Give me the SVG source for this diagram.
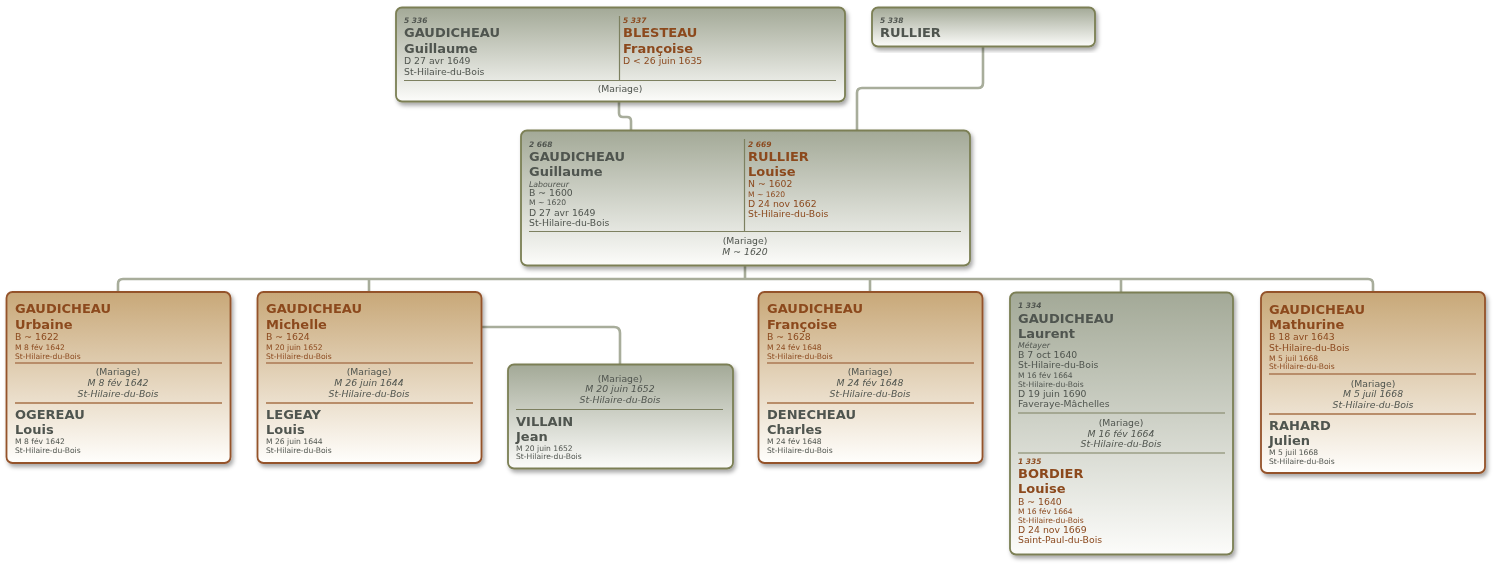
<svg xmlns="http://www.w3.org/2000/svg" width="1496" height="588" viewBox="0 0 1496 588">
<style>
text{font-family:"DejaVu Sans",Verdana,sans-serif;fill:#50554f}
.b{font-weight:bold;font-size:13px}
.n{font-size:9.3px}
.s{font-size:7.6px}
.i{font-style:italic;font-size:9.3px}
.id{font-style:italic;font-weight:bold;font-size:7.5px}
.lab{font-style:italic;font-size:7.8px}
.br{fill:#8c4a1f}
.c{text-anchor:middle}
.gbox{fill:url(#gg);stroke:#7b7f54;stroke-width:1.8}
.bbox{fill:url(#bg);stroke:#94522a;stroke-width:1.8}
.gl{stroke:#7d8060;stroke-width:1.2}
.bl{stroke:#b88d6a;stroke-width:2}
.con{fill:none;stroke:#a8ad9b;stroke-width:2.6}
</style>
<defs>
<linearGradient id="gg" x1="0" y1="0" x2="0" y2="1">
<stop offset="0" stop-color="#a3a997"/>
<stop offset="1" stop-color="#fcfcfa"/>
</linearGradient>
<linearGradient id="bg" x1="0" y1="0" x2="0" y2="1">
<stop offset="0" stop-color="#c8a878"/>
<stop offset="1" stop-color="#fffefc"/>
</linearGradient>
<filter id="sh" x="-5%" y="-5%" width="115%" height="120%">
<feDropShadow dx="2" dy="3" stdDeviation="2" flood-color="#000" flood-opacity="0.35"/>
</filter>
</defs>

<g id="connectors">
<path class="con" d="M619,102 V113 Q619,117 623,117 H627 Q631,117 631,121 V130"/>
<path class="con" d="M983,47 V83 Q983,88 978,88 H862 Q857,88 857,93 V130"/>
<path class="con" d="M745,265 V279"/>
<path class="con" d="M118,292 V284 Q118,279 123,279 H1368 Q1373,279 1373,284 V292"/>
<path class="con" d="M369,279 V292"/>
<path class="con" d="M870,279 V292"/>
<path class="con" d="M1121,279 V292"/>
<path class="con" d="M482,327 H614 Q620,327 620,333 V364"/>
</g>

<g id="couple-5336-5337" filter="url(#sh)">
<rect class="gbox" x="396" y="7.5" width="449" height="94" rx="6"/>
<line class="gl" x1="619.5" y1="16" x2="619.5" y2="80"/>
<line class="gl" x1="404" y1="80.5" x2="836" y2="80.5"/>
<text class="id" x="404" y="23">5 336</text>
<text class="b" x="404" y="37">GAUDICHEAU</text>
<text class="b" x="404" y="52.5">Guillaume</text>
<text class="n" x="404" y="64">D 27 avr 1649</text>
<text class="n" x="404" y="74.5">St-Hilaire-du-Bois</text>
<text class="id br" x="623" y="23">5 337</text>
<text class="b br" x="623" y="37">BLESTEAU</text>
<text class="b br" x="623" y="52.5">Françoise</text>
<text class="n br" x="623" y="64">D &lt; 26 juin 1635</text>
<text class="n c" x="620" y="92">(Mariage)</text>
</g>

<g id="person-5338" filter="url(#sh)">
<rect class="gbox" x="872" y="7.5" width="223" height="39" rx="6"/>
<text class="id" x="880" y="23">5 338</text>
<text class="b" x="880" y="37">RULLIER</text>
</g>

<g id="couple-2668-2669" filter="url(#sh)">
<rect class="gbox" x="521" y="130.5" width="449" height="135" rx="6"/>
<line class="gl" x1="744.5" y1="139" x2="744.5" y2="231"/>
<line class="gl" x1="529" y1="231.5" x2="961" y2="231.5"/>
<text class="id" x="529" y="146.5">2 668</text>
<text class="b" x="529" y="160.7">GAUDICHEAU</text>
<text class="b" x="529" y="175.7">Guillaume</text>
<text class="lab" x="529" y="186.5">Laboureur</text>
<text class="n" x="529" y="196">B ~ 1600</text>
<text class="s" x="529" y="205">M ~ 1620</text>
<text class="n" x="529" y="215.7">D 27 avr 1649</text>
<text class="n" x="529" y="226">St-Hilaire-du-Bois</text>
<text class="id br" x="748" y="146.5">2 669</text>
<text class="b br" x="748" y="160.7">RULLIER</text>
<text class="b br" x="748" y="175.7">Louise</text>
<text class="n br" x="748" y="187">N ~ 1602</text>
<text class="s br" x="748" y="196.7">M ~ 1620</text>
<text class="n br" x="748" y="206.7">D 24 nov 1662</text>
<text class="n br" x="748" y="217">St-Hilaire-du-Bois</text>
<text class="n c" x="745" y="244">(Mariage)</text>
<text class="i c" x="745" y="254.5">M ~ 1620</text>
</g>

<g id="urbaine" filter="url(#sh)">
<rect class="bbox" x="6.5" y="292" width="224" height="171" rx="6"/>
<line class="bl" x1="15" y1="363" x2="222" y2="363"/>
<line class="bl" x1="15" y1="403" x2="222" y2="403"/>
<text class="b br" x="15" y="313.3">GAUDICHEAU</text>
<text class="b br" x="15" y="329">Urbaine</text>
<text class="n br" x="15" y="340.3">B ~ 1622</text>
<text class="s br" x="15" y="350.3">M 8 fév 1642</text>
<text class="s br" x="15" y="358.5">St-Hilaire-du-Bois</text>
<text class="n c" x="118" y="375.3">(Mariage)</text>
<text class="i c" x="118" y="386.2">M 8 fév 1642</text>
<text class="i c" x="118" y="396.8">St-Hilaire-du-Bois</text>
<text class="b" x="15" y="419.3">OGEREAU</text>
<text class="b" x="15" y="434.3">Louis</text>
<text class="s" x="15" y="444.3">M 8 fév 1642</text>
<text class="s" x="15" y="452.5">St-Hilaire-du-Bois</text>
</g>

<g id="michelle" filter="url(#sh)">
<rect class="bbox" x="257.5" y="292" width="224" height="171" rx="6"/>
<line class="bl" x1="266" y1="363" x2="473" y2="363"/>
<line class="bl" x1="266" y1="403" x2="473" y2="403"/>
<text class="b br" x="266" y="313.3">GAUDICHEAU</text>
<text class="b br" x="266" y="329">Michelle</text>
<text class="n br" x="266" y="340.3">B ~ 1624</text>
<text class="s br" x="266" y="350.3">M 20 juin 1652</text>
<text class="s br" x="266" y="358.5">St-Hilaire-du-Bois</text>
<text class="n c" x="369" y="375.3">(Mariage)</text>
<text class="i c" x="369" y="386.2">M 26 juin 1644</text>
<text class="i c" x="369" y="396.8">St-Hilaire-du-Bois</text>
<text class="b" x="266" y="419.3">LEGEAY</text>
<text class="b" x="266" y="434.3">Louis</text>
<text class="s" x="266" y="444.3">M 26 juin 1644</text>
<text class="s" x="266" y="452.5">St-Hilaire-du-Bois</text>
</g>

<g id="villain" filter="url(#sh)">
<rect class="gbox" x="508" y="364.5" width="225" height="104" rx="6"/>
<line class="gl" x1="516" y1="409.5" x2="723" y2="409.5"/>
<text class="n c" x="620" y="381.5">(Mariage)</text>
<text class="i c" x="620" y="392.3">M 20 juin 1652</text>
<text class="i c" x="620" y="403">St-Hilaire-du-Bois</text>
<text class="b" x="516" y="425.7">VILLAIN</text>
<text class="b" x="516" y="440.7">Jean</text>
<text class="s" x="516" y="451">M 20 juin 1652</text>
<text class="s" x="516" y="459">St-Hilaire-du-Bois</text>
</g>

<g id="francoise" filter="url(#sh)">
<rect class="bbox" x="758.5" y="292" width="224" height="171" rx="6"/>
<line class="bl" x1="767" y1="363" x2="974" y2="363"/>
<line class="bl" x1="767" y1="403" x2="974" y2="403"/>
<text class="b br" x="767" y="313.3">GAUDICHEAU</text>
<text class="b br" x="767" y="329">Françoise</text>
<text class="n br" x="767" y="340.3">B ~ 1628</text>
<text class="s br" x="767" y="350.3">M 24 fév 1648</text>
<text class="s br" x="767" y="358.5">St-Hilaire-du-Bois</text>
<text class="n c" x="870" y="375.3">(Mariage)</text>
<text class="i c" x="870" y="386.2">M 24 fév 1648</text>
<text class="i c" x="870" y="396.8">St-Hilaire-du-Bois</text>
<text class="b" x="767" y="419.3">DENECHEAU</text>
<text class="b" x="767" y="434.3">Charles</text>
<text class="s" x="767" y="444.3">M 24 fév 1648</text>
<text class="s" x="767" y="452.5">St-Hilaire-du-Bois</text>
</g>

<g id="laurent-1334" filter="url(#sh)">
<rect class="gbox" x="1010" y="292.5" width="223" height="262" rx="6"/>
<line class="gl" x1="1018" y1="413" x2="1225" y2="413"/>
<line class="gl" x1="1018" y1="453" x2="1225" y2="453"/>
<text class="id" x="1018" y="308.3">1 334</text>
<text class="b" x="1018" y="322.5">GAUDICHEAU</text>
<text class="b" x="1018" y="337.7">Laurent</text>
<text class="lab" x="1018" y="347.7">Métayer</text>
<text class="n" x="1018" y="357.5">B 7 oct 1640</text>
<text class="n" x="1018" y="368">St-Hilaire-du-Bois</text>
<text class="s" x="1018" y="378.3">M 16 fév 1664</text>
<text class="s" x="1018" y="386.7">St-Hilaire-du-Bois</text>
<text class="n" x="1018" y="396.5">D 19 juin 1690</text>
<text class="n" x="1018" y="407">Faveraye-Mâchelles</text>
<text class="n c" x="1121" y="425.5">(Mariage)</text>
<text class="i c" x="1121" y="436.7">M 16 fév 1664</text>
<text class="i c" x="1121" y="447.3">St-Hilaire-du-Bois</text>
<text class="id br" x="1018" y="464">1 335</text>
<text class="b br" x="1018" y="477.7">BORDIER</text>
<text class="b br" x="1018" y="493">Louise</text>
<text class="n br" x="1018" y="504.5">B ~ 1640</text>
<text class="s br" x="1018" y="514.3">M 16 fév 1664</text>
<text class="s br" x="1018" y="522.7">St-Hilaire-du-Bois</text>
<text class="n br" x="1018" y="532.7">D 24 nov 1669</text>
<text class="n br" x="1018" y="543.3">Saint-Paul-du-Bois</text>
</g>

<g id="mathurine" filter="url(#sh)">
<rect class="bbox" x="1261" y="292" width="224" height="181" rx="6"/>
<line class="bl" x1="1269" y1="374" x2="1476" y2="374"/>
<line class="bl" x1="1269" y1="414" x2="1476" y2="414"/>
<text class="b br" x="1269" y="314">GAUDICHEAU</text>
<text class="b br" x="1269" y="329">Mathurine</text>
<text class="n br" x="1269" y="340.3">B 18 avr 1643</text>
<text class="n br" x="1269" y="351">St-Hilaire-du-Bois</text>
<text class="s br" x="1269" y="361">M 5 juil 1668</text>
<text class="s br" x="1269" y="369.3">St-Hilaire-du-Bois</text>
<text class="n c" x="1373" y="387">(Mariage)</text>
<text class="i c" x="1373" y="397.3">M 5 juil 1668</text>
<text class="i c" x="1373" y="408">St-Hilaire-du-Bois</text>
<text class="b" x="1269" y="430">RAHARD</text>
<text class="b" x="1269" y="445">Julien</text>
<text class="s" x="1269" y="455">M 5 juil 1668</text>
<text class="s" x="1269" y="463.7">St-Hilaire-du-Bois</text>
</g>
</svg>
